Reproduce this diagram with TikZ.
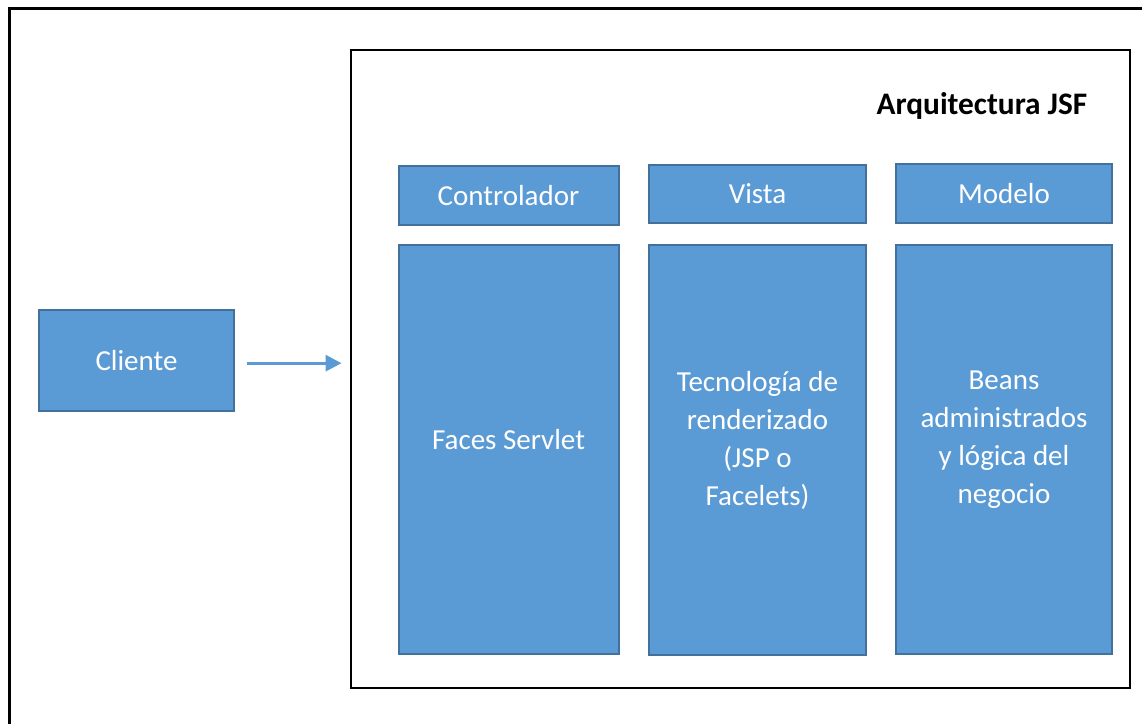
\documentclass[tikz,border=0pt]{standalone}
\usepackage{fontspec}
\setmainfont{Carlito}
\usepackage{tikz}
\usetikzlibrary{positioning,arrows.meta}
\definecolor{BoxFill}{RGB}{91,155,213}
\definecolor{BoxLine}{RGB}{65,113,156}

\begin{document}
\begin{tikzpicture}[
x=0.75pt,y=-0.75pt,
node distance=13.5pt,
frame/.style={draw=black,line width=2.2pt},
box/.style={rectangle,draw=BoxLine,fill=BoxFill,line width=1.5pt,minimum width=165pt,align=center,text=white,font=\fontsize{21.75}{28.5}\selectfont},
head/.style={box,minimum height=44pt},
body/.style={box,minimum height=307pt},
lbl/.style={align=center,text=white,font=\fontsize{21.75}{28.5}\selectfont,yshift=7.5pt},
arrow/.style={-{Triangle[length=12pt,width=12pt]},line width=2.4pt,draw=BoxFill}
]
\clip (0,0) rectangle (1142,724);
\fill[white] (0,0) rectangle (1142,724);
\draw[frame] (9.5,8.5) rectangle (1170,750);
% arquitectura
\node[frame,rectangle,minimum width=584.25pt,minimum height=478.5pt] (arq) at (740.5,369) {};
\node[anchor=east,font=\fontsize{23.5}{28}\selectfont\bfseries] (titulo) at (1092,106) {Arquitectura JSF};
\node[head] (ctrl) at (508.5,195.5) {Controlador};
\node[head,minimum width=163pt] (vista) at (757.5,194) {Vista};
\node[head,minimum width=162pt] (modelo) at (1004,193.5) {Modelo};
\node[body,below=13.5pt of ctrl,label={[lbl]center:Faces Servlet}] (faces) {};
\node[body,minimum width=163pt,below=15pt of vista,label={[lbl]center:Tecnología de\\renderizado\\(JSP o\\Facelets)}] (render) {};
\node[body,minimum width=162pt,below=15pt of modelo,label={[lbl]center:Beans\\administrados\\y lógica del\\negocio}] (beans) {};
% cliente
\node[box,minimum width=146pt,minimum height=76pt] (cli) at (136.5,360.5) {Cliente};
\draw[arrow,shorten <=9pt,shorten >=6pt] ([yshift=-2pt]cli.east) -- ([yshift=-2pt]cli.east -| arq.west);
\end{tikzpicture}
\end{document}
